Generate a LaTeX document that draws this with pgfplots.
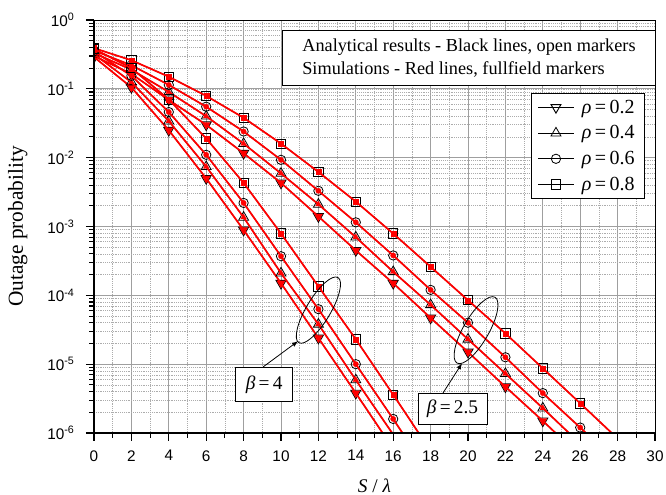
\documentclass[border=0pt]{standalone}
\usepackage{fontspec}
\setmainfont{Liberation Serif}
\newfontfamily\arialfont{Liberation Sans}
\usepackage{pgfplots}
\usepackage{pgfplotstable}
\pgfplotsset{compat=1.18}
\usetikzlibrary{shapes.geometric}

% beta = 2.5
\pgfplotstableread{
x   r2      r4      r6      r8
0   0.30    0.33    0.36    0.39
2   0.165   0.19    0.22    0.26
4   0.069   0.09    0.114   0.15
6   0.030   0.040   0.055   0.079
8   0.0116  0.016   0.024   0.038
10  0.0043  0.0059  0.0093  0.016
12  0.0014  0.0021  0.0033  0.0062
14  4.5e-4  7.0e-4  1.15e-3 2.3e-3
16  1.5e-4  2.2e-4  3.8e-4  7.9e-4
18  4.7e-5  7.3e-5  1.2e-4  2.6e-4
20  1.5e-5  2.3e-5  4.0e-5  8.5e-5
22  4.7e-6  7.3e-6  1.26e-5 2.8e-5
24  1.5e-6  2.3e-6  3.8e-6  8.7e-6
26  4.6e-7  7.0e-7  1.2e-6  2.7e-6
28  nan     nan     3.6e-7  8.3e-7
}\betalow

% beta = 4
\pgfplotstableread{
x   r2      r4      r6      r8
0   0.29    0.32    0.35    0.38
2   0.105   0.125   0.155   0.20
4   0.025   0.034   0.046   0.07
6   0.005   0.0074  0.011   0.019
8   8.9e-4  1.36e-3 2.2e-3  4.3e-3
10  1.5e-4  2.1e-4  3.7e-4  7.9e-4
12  2.4e-5  3.8e-5  6.3e-5  1.35e-4
14  3.8e-6  5.9e-6  1.0e-5  2.3e-5
16  5.9e-7  9.5e-7  1.6e-6  3.6e-6
18  nan     nan     2.4e-7  5.5e-7
}\betahigh

\pgfplotsset{
  ana/.style={black, line width=0.7pt, mark options={solid, fill=white, line width=0.6pt}},
  sim/.style={red, line width=1.3pt, forget plot, mark options={solid, fill=red, draw=red, line width=0.2pt}},
  dtri/.style={mark=triangle, mark size=4.3pt, mark options={rotate=180}},
  utri/.style={mark=triangle, mark size=4.3pt},
  circ/.style={mark=o, mark size=3.5pt},
  sqr/.style={mark=square, mark size=3.5pt},
  dtrif/.style={mark=triangle*, mark size=2.5pt, mark options={rotate=180}},
  utrif/.style={mark=triangle*, mark size=2.5pt},
  circf/.style={mark=*, mark size=2pt},
  sqrf/.style={mark=square*, mark size=1.9pt},
}
\newcommand{\eq}{\hspace{0.17em}=\hspace{0.17em}}

\begin{document}
\begin{tikzpicture}
\begin{axis}[
  name=ax,
  scale only axis,
  width=420.75pt, height=309.75pt,
  ymode=log, log basis y=10,
  xmin=0, xmax=30, ymin=1e-6, ymax=1,
  xtick={0,2,...,30}, minor x tick num=1,
  yticklabel={\pgfmathparse{int(round(\tick))}10\textsuperscript{\pgfmathresult}},
  ticklabel style={font=\arialfont\fontsize{11.5}{13}\selectfont},
  xticklabel style={yshift=-3.5pt},
  yticklabel style={xshift=-5pt},
  /pgf/number format/assume math mode=true,
  tick align=outside, xtick pos=left, ytick pos=left,
  major tick length=6pt, minor tick length=3.5pt,
  tick style={black, line width=0.8pt},
  grid=both,
  major grid style={gray!75, line width=0.7pt},
  minor grid style={gray!65, densely dotted, line width=0.5pt},
  axis line style={black, line width=0.6pt},
  clip marker paths=true,
  xlabel={\textit{S} / \textit{λ}},
  xlabel style={font=\fontsize{14.5}{16}\selectfont, at={(axis description cs:0.5,-0.127)}, anchor=center},
  ylabel={Outage probability},
  ylabel style={font=\fontsize{16}{18}\selectfont, at={(axis description cs:-0.136,0.5)}, anchor=center},
  legend style={at={(0.981,0.824)}, anchor=north east, draw=black, fill=white,
    font=\fontsize{15}{16}\selectfont, row sep=3.8pt, inner xsep=5pt, inner ysep=3pt,
    cells={anchor=west}, line width=0.6pt},
  legend image code/.code={\draw[mark repeat=2, mark phase=2] plot coordinates {(0cm,0cm) (0.47cm,0cm) (0.94cm,0cm)};},
]
% beta = 2.5
\addplot[ana, dtri] table[x=x, y=r2] {\betalow};
\addlegendentry{\hspace{0.25em}\textit{ρ}\eq 0.2}
\addplot[sim, dtrif] table[x=x, y=r2] {\betalow};
\addplot[ana, utri] table[x=x, y=r4] {\betalow};
\addlegendentry{\hspace{0.25em}\textit{ρ}\eq 0.4}
\addplot[sim, utrif] table[x=x, y=r4] {\betalow};
\addplot[ana, circ] table[x=x, y=r6] {\betalow};
\addlegendentry{\hspace{0.25em}\textit{ρ}\eq 0.6}
\addplot[sim, circf] table[x=x, y=r6] {\betalow};
\addplot[ana, sqr] table[x=x, y=r8] {\betalow};
\addlegendentry{\hspace{0.25em}\textit{ρ}\eq 0.8}
\addplot[sim, sqrf] table[x=x, y=r8] {\betalow};
% beta = 4
\addplot[ana, dtri, forget plot] table[x=x, y=r2] {\betahigh};
\addplot[sim, dtrif] table[x=x, y=r2] {\betahigh};
\addplot[ana, utri, forget plot] table[x=x, y=r4] {\betahigh};
\addplot[sim, utrif] table[x=x, y=r4] {\betahigh};
\addplot[ana, circ, forget plot] table[x=x, y=r6] {\betahigh};
\addplot[sim, circf] table[x=x, y=r6] {\betahigh};
\addplot[ana, sqr, forget plot] table[x=x, y=r8] {\betahigh};
\addplot[sim, sqrf] table[x=x, y=r8] {\betahigh};

% annotations
\node[draw=black, line width=0.6pt, ellipse, rotate=59, minimum width=57pt, minimum height=18pt, inner sep=0pt]
  at (axis cs:12,6.1e-5) {};
\node[draw=black, line width=0.6pt, ellipse, rotate=60, minimum width=57pt, minimum height=19pt, inner sep=0pt]
  at (axis cs:20.43,3.12e-5) {};
\draw[-latex, black, line width=0.6pt] (axis cs:9.04,9.1e-6) -- (axis cs:10.91,2.16e-5);
\draw[-latex, black, line width=0.6pt] (axis cs:18.66,3.8e-6) -- (axis cs:19.68,1.03e-5);
\node[draw=black, fill=white, line width=0.6pt, font=\fontsize{14.5}{16}\selectfont,
  minimum width=43pt, minimum height=25.5pt, inner sep=0pt] at (axis cs:9.1,5.1e-6) {\textit{β}\eq 4};
\node[draw=black, fill=white, line width=0.6pt, font=\fontsize{14.5}{16}\selectfont,
  minimum width=51.75pt, minimum height=23.5pt, inner sep=0pt] at (axis cs:19.17,2.25e-6) {\textit{β}\eq 2.5};
\end{axis}
\draw[black, line width=1.5pt] (ax.north west) -- (ax.south west) -- (ax.south east);
\node[draw=black, fill=white, line width=0.6pt, anchor=north east, align=left,
  font=\fontsize{13.7}{17.5}\selectfont, inner xsep=15pt, inner ysep=6pt]
  at ([xshift=0.75pt, yshift=-7.5pt]ax.north east)
  {Analytical results - Black lines, open markers\\Simulations - Red lines, fullfield markers};
\pgfresetboundingbox
\path ([xshift=-70.5pt, yshift=-46.5pt]ax.south west) rectangle ([xshift=8.25pt, yshift=15pt]ax.north east);
\end{tikzpicture}
\end{document}
